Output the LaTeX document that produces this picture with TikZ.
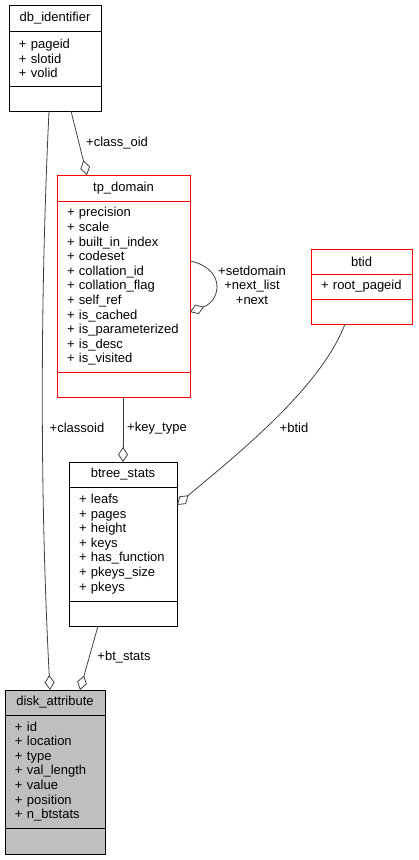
\documentclass[tikz,border=0pt]{standalone}
\usepackage{fontspec}
\setmainfont{Liberation Sans}
\usetikzlibrary{arrows.meta,positioning}
\definecolor{rojo}{RGB}{255,0,0}
\definecolor{grisl}{RGB}{64,64,64}
\definecolor{grisc}{RGB}{191,191,191}
\tikzset{
  tit/.style={draw=black, line width=1pt, outer sep=0pt, inner sep=0pt, minimum height=26pt, align=center, font=\fontsize{13}{14.6}\selectfont},
  atr/.style={draw=black, line width=1pt, outer sep=0pt, inner xsep=10pt, inner ysep=0pt, align=left, font=\fontsize{13}{14.6}\selectfont},
  vac/.style={draw=black, line width=1pt, outer sep=0pt, inner sep=0pt, minimum height=25pt},
  rel/.style={grisl, line width=0.8pt, -{Diamond[open, length=15pt, width=10pt]}},
  et/.style={font=\fontsize{13}{14.6}\selectfont, inner sep=0pt, align=center},
}
\begin{document}
\begin{tikzpicture}[x=1pt,y=-1pt]
  \useasboundingbox (0,0) rectangle (418,860);
  % db_identifier
  \node[tit, minimum width=92pt, anchor=north west] (dbT) at (9,5) {db\_identifier};
  \node[atr, text width=72pt, minimum height=55pt, below=0pt of dbT] (dbA) {+ pageid\\+ slotid\\+ volid};
  \node[vac, minimum width=92pt, below=0pt of dbA] (dbE) {};
  % tp_domain
  \node[tit, draw=rojo, minimum width=133pt, anchor=north west] (tpT) at (57,175) {tp\_domain};
  \node[atr, draw=rojo, text width=113pt, minimum height=171pt, below=0pt of tpT] (tpA)
   {+ precision\\+ scale\\+ built\_in\_index\\+ codeset\\+ collation\_id\\+ collation\_flag\\+ self\_ref\\+ is\_cached\\+ is\_parameterized\\+ is\_desc\\+ is\_visited};
  \node[vac, draw=rojo, minimum width=133pt, below=0pt of tpA] (tpE) {};
  % btid
  \node[tit, draw=rojo, minimum width=101pt, minimum height=25pt, anchor=north west] (btT) at (311,249) {btid};
  \node[atr, draw=rojo, text width=81pt, minimum height=25pt, below=0pt of btT] (btA) {+ root\_pageid};
  \node[vac, draw=rojo, minimum width=101pt, below=0pt of btA] (btE) {};
  % btree_stats
  \node[tit, minimum width=108pt, minimum height=25pt, anchor=north west] (bsT) at (69,462) {btree\_stats};
  \node[atr, text width=88pt, minimum height=114pt, below=0pt of bsT] (bsA)
   {+ leafs\\+ pages\\+ height\\+ keys\\+ has\_function\\+ pkeys\_size\\+ pkeys};
  \node[vac, minimum width=108pt, below=0pt of bsA] (bsE) {};
  % disk_attribute
  \node[tit, fill=grisc, minimum width=100pt, minimum height=25pt, anchor=north west] (daT) at (5,690) {disk\_attribute};
  \node[atr, fill=grisc, text width=80pt, minimum height=113pt, below=0pt of daT] (daA)
   {+ id\\+ location\\+ type\\+ val\_length\\+ value\\+ position\\+ n\_btstats};
  \node[vac, fill=grisc, minimum width=100pt, minimum height=26pt, below=0pt of daA] (daE) {};
  % relations
  \draw[rel] ([xshift=62pt]dbE.south west) -- ([xshift=30pt]tpT.north west);
  \node[et, anchor=west] (lclassoid) at (86,143) {+class\_oid};
  \draw[rel] ([xshift=40pt]dbE.south west) .. controls (40,300) and (40,500) .. ([xshift=45pt]daT.north west);
  \node[et] (lclassoid2) at (77,428) {+classoid};
  \draw[rel] ([yshift=-60pt]tpA.north east) .. controls (225,268) and (222,300) .. ([yshift=-111pt]tpA.north east);
  \node[et] (lself) at (252,285) {+setdomain\\+next\_list\\+next};
  \draw[rel] ([xshift=66pt]tpE.south west) -- ([xshift=54pt]bsT.north west);
  \node[et] (lkey) at (157,428) {+key\_type};
  \draw[rel] ([xshift=34pt]btE.south west) .. controls (320,390) and (230,460) .. ([yshift=-18pt]bsA.north east);
  \node[et] (lbtid) at (294,428) {+btid};
  \draw[rel] ([xshift=29pt]bsE.south west) -- ([xshift=75pt]daT.north west);
  \node[et] (lbts) at (124,657) {+bt\_stats};
\end{tikzpicture}
\end{document}
